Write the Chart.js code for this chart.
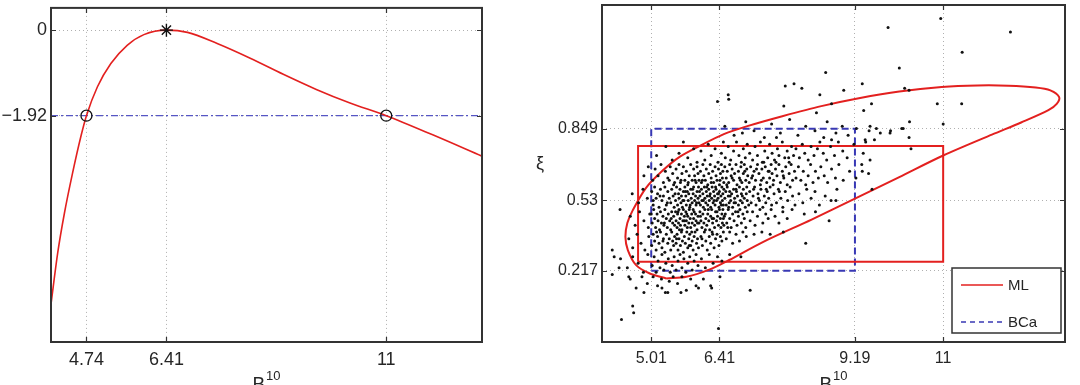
<!DOCTYPE html>
<html>
<head>
<meta charset="utf-8">
<script src="https://cdn.jsdelivr.net/npm/chart.js@4.4.1/dist/chart.umd.min.js"></script>
<style>
  body { margin: 0; background: #fff; }
  #wrap { position: relative; width: 1080px; height: 385px; overflow: hidden; }
  canvas { position: absolute; top: 0; }
  #left { left: 0; }
  #right { left: 520px; }
</style>
</head>
<body>
<div id="wrap">
  <canvas id="left" width="520" height="385" style="width:520px;height:385px"></canvas>
  <canvas id="right" width="560" height="385" style="width:560px;height:385px"></canvas>
</div>
<script>
// ---- left panel: profile log-likelihood ----
const llX = [4.0, 4.14, 4.28, 4.45, 4.63, 4.74, 4.97, 5.25, 5.59, 5.94, 6.41, 6.85, 7.47, 8.16, 8.85, 9.54, 10.23, 11.0, 11.97, 13.0];
const llY = [-6.15, -5.0, -4.11, -3.21, -2.36, -1.92, -1.27, -0.75, -0.34, -0.10, 0, -0.05, -0.30, -0.63, -0.99, -1.33, -1.63, -1.92, -2.35, -2.83];
const cutLevel = -1.92;
const ciEnds = [4.74, 11];
const mleX = 6.41;
const leftXTicks = [4.74, 6.41, 11];
const leftXLabels = ['4.74', '6.41', '11'];
const leftYTicks = [-1.92, 0];
const leftYLabels = ['\u22121.92', '0'];

// ---- right panel: bootstrap samples and confidence regions ----
const rightXTicks = [5.01, 6.41, 9.19, 11];
const rightXLabels = ['5.01', '6.41', '9.19', '11'];
const rightYTicks = [0.217, 0.53, 0.849];
const rightYLabels = ['0.217', '0.53', '0.849'];

const mlRegion = [[5.32,0.183],[4.98,0.205],[4.70,0.242],[4.53,0.309],[4.48,0.368],[4.52,0.43],[4.63,0.486],[4.90,0.585],[5.25,0.664],[5.60,0.725],[6.0,0.772],[6.5,0.825],[7.0,0.862],[7.7,0.905],[8.5,0.95],[9.27,0.985],[10.1,1.015],[10.97,1.035],[11.7,1.042],[12.34,1.041],[12.9,1.033],[13.2,1.02],[13.38,0.99],[13.33,0.96],[13.16,0.932],[12.6,0.877],[12.0,0.823],[11.0,0.73],[10.1,0.634],[9.19,0.538],[8.3,0.445],[7.3,0.345],[6.61,0.265],[6.20,0.222],[5.73,0.19],[5.32,0.183]];
const mlBox = [[4.74,0.257],[11,0.257],[11,0.772],[4.74,0.772],[4.74,0.257]];
const bcaBox = [[5.01,0.217],[9.19,0.217],[9.19,0.849],[5.01,0.849],[5.01,0.217]];

const bootCloud = [
  [6.52,0.86],[6.71,0.82],[6.95,0.88],[7.12,0.84],[7.33,0.81],[7.48,0.87],[7.66,0.83],[7.85,0.89],[8.02,0.82],[8.18,0.86],[8.37,0.84],[8.55,0.81],[8.62,0.88],[8.80,0.83],[8.93,0.86],[9.05,0.82],[9.22,0.85],[7.58,0.81],[6.88,0.83],[8.71,0.80],
  [5.12,0.73],[5.31,0.77],[5.44,0.71],[5.58,0.74],[5.67,0.79],[5.76,0.72],[5.88,0.76],[5.95,0.70],
  [6.03,0.75],[6.11,0.71],[6.18,0.78],[6.24,0.73],[6.32,0.76],[6.38,0.70],[6.45,0.74],[6.49,0.79],
  [6.53,0.72],[6.59,0.77],[6.64,0.71],[6.70,0.75],[6.76,0.79],[6.81,0.73],[6.86,0.70],[6.90,0.76],[6.94,0.72],[6.98,0.78],
  [7.03,0.74],[7.09,0.71],[7.14,0.77],[7.19,0.73],[7.25,0.79],[7.29,0.70],[7.34,0.75],[7.40,0.72],[7.44,0.78],[7.49,0.74],
  [7.54,0.71],[7.60,0.76],[7.63,0.73],[7.70,0.79],[7.75,0.72],[7.80,0.75],[7.84,0.70],[7.89,0.77],[7.93,0.73],[7.98,0.76],
  [8.05,0.72],[8.11,0.78],[8.16,0.74],[8.23,0.71],[8.29,0.77],[8.35,0.73],[8.42,0.76],[8.47,0.79],
  [8.54,0.74],[8.61,0.71],[8.69,0.77],[8.77,0.73],[8.85,0.79],[8.94,0.75],[9.03,0.72],[9.17,0.78],[9.36,0.74],
  [4.86,0.64],[4.95,0.68],
  [5.04,0.62],[5.09,0.67],[5.15,0.64],[5.21,0.69],[5.26,0.61],[5.30,0.66],[5.35,0.63],[5.40,0.68],[5.45,0.65],[5.49,0.61],
  [5.52,0.67],[5.55,0.63],[5.58,0.69],[5.61,0.61],[5.64,0.65],[5.67,0.68],[5.70,0.62],[5.73,0.66],[5.76,0.60],[5.79,0.64],[5.82,0.69],[5.85,0.62],[5.88,0.67],[5.90,0.64],[5.93,0.61],[5.95,0.68],[5.97,0.65],[5.99,0.62],
  [6.02,0.66],[6.04,0.61],[6.07,0.69],[6.09,0.64],[6.12,0.62],[6.14,0.67],[6.17,0.60],[6.19,0.65],[6.22,0.69],[6.24,0.63],[6.27,0.66],[6.29,0.61],[6.32,0.68],[6.34,0.64],[6.36,0.62],[6.39,0.67],[6.41,0.60],[6.43,0.65],[6.45,0.69],[6.47,0.63],[6.48,0.66],[6.50,0.61],
  [6.52,0.68],[6.55,0.63],[6.57,0.66],[6.60,0.61],[6.62,0.69],[6.65,0.64],[6.67,0.67],[6.70,0.62],[6.72,0.65],[6.75,0.69],[6.77,0.60],[6.80,0.66],[6.82,0.63],[6.85,0.68],[6.87,0.61],[6.90,0.65],[6.92,0.69],[6.95,0.62],[6.97,0.67],[6.99,0.64],
  [7.02,0.61],[7.05,0.68],[7.09,0.64],[7.12,0.66],[7.15,0.62],[7.19,0.69],[7.22,0.65],[7.25,0.60],[7.28,0.67],[7.31,0.63],[7.35,0.68],[7.38,0.61],[7.41,0.66],[7.44,0.63],[7.47,0.69],[7.49,0.65],
  [7.52,0.62],[7.56,0.67],[7.59,0.64],[7.63,0.69],[7.66,0.61],[7.70,0.66],[7.73,0.63],[7.77,0.68],[7.80,0.60],[7.84,0.65],[7.88,0.69],[7.91,0.62],[7.95,0.66],[7.98,0.63],
  [8.03,0.68],[8.08,0.62],[8.13,0.66],[8.18,0.60],[8.23,0.64],[8.28,0.69],[8.33,0.61],[8.38,0.66],[8.44,0.63],[8.49,0.68],
  [8.56,0.64],[8.63,0.61],[8.71,0.67],[8.79,0.63],[8.86,0.69],[8.95,0.62],[9.08,0.66],[9.21,0.63],[9.33,0.69],
  [4.62,0.56],[4.75,0.52],[4.84,0.58],[4.93,0.54],
  [5.02,0.57],[5.05,0.51],[5.08,0.59],[5.11,0.54],[5.14,0.56],[5.17,0.50],[5.20,0.58],[5.23,0.53],[5.26,0.55],[5.29,0.59],[5.32,0.51],[5.35,0.57],[5.38,0.54],[5.41,0.52],[5.43,0.58],[5.46,0.55],[5.48,0.50],[5.50,0.56],
  [5.51,0.53],[5.53,0.59],[5.55,0.51],[5.57,0.56],[5.58,0.54],[5.60,0.58],[5.62,0.52],[5.63,0.55],[5.65,0.50],[5.67,0.57],[5.68,0.53],[5.70,0.59],[5.72,0.55],[5.73,0.51],[5.75,0.57],[5.77,0.53],[5.78,0.56],[5.80,0.50],[5.82,0.58],[5.83,0.54],[5.85,0.52],[5.87,0.56],[5.88,0.59],[5.90,0.53],[5.92,0.55],[5.93,0.51],[5.95,0.57],[5.97,0.54],[5.98,0.59],[5.99,0.52],
  [6.01,0.55],[6.02,0.51],[6.04,0.58],[6.05,0.53],[6.07,0.56],[6.08,0.50],[6.10,0.59],[6.11,0.54],[6.13,0.52],[6.14,0.57],[6.16,0.55],[6.17,0.51],[6.19,0.58],[6.20,0.53],[6.22,0.56],[6.23,0.50],[6.25,0.54],[6.26,0.59],[6.28,0.52],[6.29,0.57],[6.31,0.55],[6.32,0.51],[6.34,0.58],[6.35,0.53],[6.37,0.56],[6.38,0.54],[6.40,0.50],[6.41,0.57],[6.43,0.52],[6.44,0.55],[6.46,0.59],[6.47,0.53],[6.48,0.56],[6.49,0.51],[6.50,0.58],
  [6.52,0.54],[6.54,0.57],[6.55,0.51],[6.57,0.59],[6.59,0.55],[6.61,0.52],[6.62,0.57],[6.64,0.53],[6.66,0.56],[6.68,0.50],[6.70,0.58],[6.72,0.54],[6.74,0.52],[6.76,0.57],[6.78,0.55],[6.80,0.51],[6.82,0.59],[6.84,0.53],[6.86,0.56],[6.88,0.52],[6.90,0.58],[6.92,0.54],[6.94,0.50],[6.96,0.56],[6.98,0.53],
  [7.03,0.57],[7.06,0.52],[7.10,0.55],[7.13,0.59],[7.16,0.51],[7.20,0.56],[7.23,0.53],[7.26,0.58],[7.30,0.50],[7.33,0.55],[7.36,0.52],[7.39,0.57],[7.42,0.54],[7.45,0.59],[7.48,0.51],
  [7.53,0.56],[7.58,0.52],[7.62,0.58],[7.67,0.54],[7.71,0.50],[7.76,0.57],[7.81,0.53],[7.86,0.59],[7.91,0.55],[7.96,0.51],
  [8.04,0.56],[8.12,0.52],[8.20,0.58],[8.29,0.54],[8.37,0.57],[8.46,0.51],[8.58,0.55],[8.70,0.53],[8.82,0.58],
  [4.58,0.46],[4.68,0.42],[4.77,0.48],[4.86,0.44],[4.95,0.41],
  [5.01,0.47],[5.03,0.43],[5.06,0.49],[5.08,0.45],[5.10,0.41],[5.13,0.47],[5.15,0.44],[5.18,0.40],[5.20,0.48],[5.22,0.43],[5.25,0.46],[5.27,0.42],[5.29,0.49],[5.32,0.45],[5.34,0.41],[5.36,0.47],[5.39,0.44],[5.41,0.40],[5.43,0.48],[5.45,0.43],[5.47,0.46],[5.49,0.42],
  [5.51,0.48],[5.52,0.44],[5.54,0.41],[5.55,0.47],[5.57,0.43],[5.58,0.49],[5.60,0.45],[5.61,0.42],[5.63,0.47],[5.64,0.40],[5.66,0.44],[5.67,0.49],[5.69,0.46],[5.70,0.42],[5.72,0.48],[5.73,0.44],[5.75,0.41],[5.76,0.46],[5.78,0.43],[5.79,0.49],[5.81,0.45],[5.82,0.41],[5.84,0.47],[5.85,0.43],[5.87,0.49],[5.88,0.45],[5.90,0.42],[5.92,0.47],[5.93,0.44],[5.95,0.40],[5.97,0.46],[5.99,0.43],
  [6.01,0.48],[6.03,0.44],[6.05,0.41],[6.07,0.47],[6.09,0.43],[6.11,0.49],[6.13,0.45],[6.15,0.42],[6.17,0.47],[6.19,0.44],[6.21,0.40],[6.23,0.46],[6.25,0.49],[6.27,0.43],[6.29,0.45],[6.31,0.41],[6.33,0.48],[6.35,0.44],[6.37,0.46],[6.39,0.42],[6.41,0.49],[6.43,0.45],[6.44,0.41],[6.46,0.47],[6.47,0.43],[6.48,0.49],[6.49,0.45],[6.50,0.42],
  [6.53,0.47],[6.56,0.43],[6.59,0.49],[6.62,0.45],[6.65,0.41],[6.68,0.47],[6.71,0.44],[6.74,0.48],[6.77,0.42],[6.80,0.46],[6.83,0.49],[6.86,0.43],[6.89,0.47],[6.92,0.45],[6.95,0.41],[6.98,0.48],
  [7.04,0.44],[7.09,0.48],[7.14,0.42],[7.19,0.46],[7.24,0.49],[7.30,0.43],[7.36,0.47],[7.41,0.45],[7.47,0.49],
  [7.55,0.46],[7.63,0.43],[7.71,0.48],[7.80,0.45],[7.90,0.49],[8.15,0.47],[8.38,0.48],
  [4.55,0.36],[4.63,0.32],[4.72,0.38],[4.80,0.34],[4.88,0.31],[4.96,0.37],
  [5.02,0.33],[5.05,0.38],[5.08,0.35],[5.11,0.31],[5.14,0.37],[5.17,0.34],[5.20,0.39],[5.23,0.32],[5.26,0.36],[5.29,0.30],[5.32,0.38],[5.35,0.34],[5.38,0.36],[5.41,0.31],[5.43,0.39],[5.45,0.35],[5.47,0.33],[5.49,0.37],
  [5.52,0.34],[5.54,0.38],[5.56,0.31],[5.58,0.36],[5.61,0.33],[5.63,0.39],[5.65,0.35],[5.67,0.30],[5.69,0.37],[5.71,0.34],[5.74,0.39],[5.76,0.32],[5.78,0.36],[5.80,0.38],[5.82,0.33],[5.85,0.35],[5.87,0.31],[5.89,0.37],[5.91,0.39],[5.94,0.34],[5.96,0.36],[5.98,0.32],
  [6.03,0.37],[6.06,0.33],[6.10,0.39],[6.13,0.35],[6.16,0.31],[6.20,0.37],[6.23,0.34],[6.26,0.39],[6.30,0.32],[6.33,0.36],[6.36,0.38],[6.40,0.33],[6.43,0.37],[6.46,0.35],[6.49,0.39],
  [6.55,0.36],[6.62,0.39],[6.68,0.34],[6.75,0.38],[6.82,0.35],[6.89,0.39],[6.96,0.37],[7.12,0.38],[7.28,0.39],[7.45,0.38],[7.72,0.39],
  [4.38,0.27],[4.52,0.23],[4.63,0.28],[4.74,0.25],[4.85,0.21],[4.94,0.29],
  [5.03,0.24],[5.07,0.28],[5.11,0.21],[5.15,0.26],[5.19,0.23],[5.23,0.29],[5.27,0.22],[5.31,0.25],[5.36,0.27],[5.40,0.21],[5.44,0.24],[5.48,0.28],
  [5.52,0.22],[5.56,0.26],[5.60,0.29],[5.64,0.23],[5.68,0.27],[5.72,0.21],[5.76,0.25],[5.80,0.28],[5.85,0.22],[5.89,0.26],[5.93,0.29],[5.97,0.24],
  [6.04,0.27],[6.12,0.23],[6.20,0.29],[6.28,0.25],[6.37,0.28],[6.46,0.26],[6.62,0.29],[6.85,0.28],
  [4.58,0.18],[4.70,0.14],[4.82,0.19],[4.93,0.16],
  [5.05,0.19],[5.14,0.15],[5.22,0.18],[5.30,0.12],[5.38,0.17],[5.46,0.19],
  [5.55,0.16],[5.64,0.19],[5.73,0.13],[5.82,0.18],[5.93,0.15],[6.08,0.18],[6.25,0.14],[6.42,0.19],
  // extra samples in the dense core
  [5.34,0.52],[5.42,0.45],[5.47,0.60],[5.56,0.48],[5.59,0.40],[5.62,0.62],[5.66,0.53],[5.69,0.44],[5.71,0.57],[5.74,0.47],
  [5.77,0.61],[5.81,0.51],[5.84,0.39],[5.86,0.58],[5.89,0.48],[5.91,0.62],[5.94,0.52],[5.96,0.43],[6.00,0.57],[6.02,0.46],
  [6.06,0.62],[6.08,0.53],[6.12,0.40],[6.15,0.59],[6.18,0.49],[6.21,0.55],[6.24,0.61],[6.26,0.45],[6.30,0.53],[6.33,0.59],
  [6.36,0.48],[6.39,0.56],[6.42,0.62],[6.45,0.51],[6.51,0.46],[6.56,0.60],[6.60,0.50],[6.63,0.55],[6.67,0.63],[6.71,0.52],
  [6.75,0.58],[6.79,0.48],[6.84,0.62],[6.88,0.55],[6.93,0.66],[6.97,0.59],[7.01,0.51],[7.07,0.63],[7.11,0.58],[7.17,0.67],
  [7.21,0.54],[7.27,0.62],[7.32,0.70],[7.37,0.58],[7.43,0.66],[7.51,0.60],[7.57,0.70],[7.64,0.57],[7.72,0.64],[7.83,0.72],
  [5.28,0.43],[5.19,0.55],[5.12,0.39],[5.38,0.62],[5.25,0.35],[5.53,0.36],[5.79,0.33],[6.05,0.36],[6.27,0.38],[6.58,0.41],
  [5.05,0.53],[4.98,0.47],
  // scattered far samples
  [9.87,1.30],[10.95,1.34],[12.38,1.28],[11.39,1.19],[10.10,1.12],[8.59,1.10],[9.34,1.05],[7.76,1.04],[7.94,1.05],[8.10,1.03],
  [8.96,1.02],[10.21,1.03],[10.30,1.02],[10.88,0.96],[11.38,0.96],[6.59,1.00],[6.60,0.98],[6.37,0.97],[7.73,0.95],[8.47,1.00],
  [8.71,0.96],[8.40,0.92],[9.53,0.96],[9.37,0.93],[11.00,0.87],[10.31,0.88],[9.50,0.86],[9.48,0.84],[9.63,0.85],[9.71,0.83],
  [9.92,0.84],[9.91,0.83],[10.15,0.85],[10.18,0.85],[9.40,0.80],[9.41,0.79],[9.59,0.80],[10.30,0.81],[10.34,0.76],[9.50,0.71],
  [9.47,0.65],[9.34,0.66],[9.54,0.58],[8.18,0.34],[7.04,0.13],[6.39,-0.04],[4.40,0.00],[4.63,0.06],[4.65,0.03],[4.21,0.31],
  [4.25,0.28],[4.37,0.49],[4.86,0.12],[5.23,0.14],[5.35,0.12],[5.62,0.12],[5.98,0.14],[6.23,0.15],[4.55,0.19],[4.21,0.20],
  [4.35,0.23],[8.80,0.53],[8.66,0.44]
];

const textColor = '#262626';
const tickFont = (size) => ({ family: "'Liberation Sans', Arial, sans-serif", size: size });
const pts = (pairs) => pairs.map(p => ({ x: p[0], y: p[1] }));

// MATLAB-like frame: full box, inward ticks, axis titles, legend
const matlabBox = {
  id: 'matlabBox',
  afterDraw(chart, args, opts) {
    const { ctx, chartArea: a, scales } = chart;
    ctx.save();
    ctx.strokeStyle = '#333';
    ctx.lineWidth = 1.2;
    scales.x.ticks.forEach(t => {
      const px = Math.round(scales.x.getPixelForValue(t.value)) + 0.5;
      ctx.beginPath();
      ctx.moveTo(px, a.bottom); ctx.lineTo(px, a.bottom - 5);
      ctx.moveTo(px, a.top); ctx.lineTo(px, a.top + 5);
      ctx.stroke();
    });
    scales.y.ticks.forEach(t => {
      const py = Math.round(scales.y.getPixelForValue(t.value)) + 0.5;
      ctx.beginPath();
      ctx.moveTo(a.left, py); ctx.lineTo(a.left + 5, py);
      ctx.moveTo(a.right, py); ctx.lineTo(a.right - 5, py);
      ctx.stroke();
    });
    ctx.lineWidth = 2;
    ctx.strokeRect(a.left, a.top, a.right - a.left, a.bottom - a.top);

    // x title: B with superscript 10
    ctx.fillStyle = textColor;
    ctx.textBaseline = 'alphabetic';
    ctx.textAlign = 'left';
    const big = "19px 'Liberation Sans', Arial, sans-serif";
    const small = "13px 'Liberation Sans', Arial, sans-serif";
    ctx.font = big;
    const wB = ctx.measureText('B').width;
    ctx.font = small;
    const wS = ctx.measureText('10').width;
    const x0 = (a.left + a.right) / 2 - (wB + wS + 1) / 2;
    ctx.font = big;
    ctx.fillText('B', x0, a.bottom + 48);
    ctx.font = small;
    ctx.fillText('10', x0 + wB + 1, a.bottom + 38);

    if (opts.yTitle) {
      ctx.font = "18px 'Liberation Sans', Arial, sans-serif";
      ctx.textAlign = 'center';
      ctx.textBaseline = 'middle';
      ctx.fillText(opts.yTitle, a.left - 62, 164);
    }

    if (opts.legend) {
      const w = 109, h = 65;
      const lx = a.right - 4 - w, ly = a.bottom - 9 - h;
      ctx.fillStyle = '#fff';
      ctx.fillRect(lx, ly, w, h);
      ctx.strokeStyle = '#333';
      ctx.lineWidth = 1.5;
      ctx.strokeRect(lx, ly, w, h);
      ctx.font = "15px 'Liberation Sans', Arial, sans-serif";
      ctx.textAlign = 'left';
      ctx.textBaseline = 'middle';
      opts.legend.forEach((item, i) => {
        const yy = ly + 17 + i * 37;
        ctx.strokeStyle = item.color;
        ctx.lineWidth = item.width;
        ctx.setLineDash(item.dash);
        ctx.beginPath();
        ctx.moveTo(lx + 9, yy); ctx.lineTo(lx + 51, yy);
        ctx.stroke();
        ctx.setLineDash([]);
        ctx.fillStyle = textColor;
        ctx.fillText(item.label, lx + 56, yy + 1);
      });
    }
    ctx.restore();
  }
};

function axis(min, max, tickVals, tickLabels, size, isX, fitSize, pad) {
  return {
    type: 'linear',
    min: min,
    max: max,
    afterBuildTicks: s => { s.ticks = tickVals.map(v => ({ value: v })); },
    afterFit: s => {
      // fixed axis size and no label overhang, so the plot box sits where it should
      if (isX) s.height = fitSize; else s.width = fitSize;
      s.paddingTop = 0; s.paddingBottom = 0; s.paddingLeft = 0; s.paddingRight = 0;
    },
    ticks: {
      callback: v => tickLabels[tickVals.indexOf(v)],
      font: tickFont(size),
      color: textColor,
      padding: pad,
      maxRotation: 0,
      autoSkip: false
    },
    grid: { color: '#b0b0b0', lineWidth: 1, drawTicks: false },
    border: { display: false, dash: [1, 3] }
  };
}

new Chart(document.getElementById('left'), {
  type: 'scatter',
  data: {
    datasets: [
      {
        data: [{ x: mleX, y: 0 }],
        pointStyle: 'star', pointRadius: 6.5, borderColor: '#111', borderWidth: 1.4, showLine: false
      },
      {
        data: ciEnds.map(x => ({ x: x, y: cutLevel })),
        pointStyle: 'circle', pointRadius: 5.5, borderColor: '#111', borderWidth: 1.3,
        backgroundColor: 'rgba(0,0,0,0)', showLine: false
      },
      {
        data: llX.map((x, i) => ({ x: x, y: llY[i] })),
        showLine: true, borderColor: '#e3201f', borderWidth: 1.6, pointRadius: 0,
        cubicInterpolationMode: 'monotone'
      },
      {
        data: [{ x: 4, y: cutLevel }, { x: 13, y: cutLevel }],
        showLine: true, borderColor: '#5656c4', borderWidth: 1.2, pointRadius: 0,
        borderDash: [7, 3, 2, 3]
      }
    ]
  },
  options: {
    responsive: false,
    animation: false,
    events: [],
    devicePixelRatio: 1,
    layout: { padding: { left: 0, top: 6, right: 38, bottom: 0 } },
    plugins: { legend: { display: false }, tooltip: { enabled: false }, matlabBox: {} },
    scales: {
      x: axis(4, 13, leftXTicks, leftXLabels, 18, true, 43, 7),
      y: axis(-7, 0.5, leftYTicks, leftYLabels, 18, false, 51, 4)
    }
  },
  plugins: [matlabBox]
});

new Chart(document.getElementById('right'), {
  type: 'scatter',
  data: {
    datasets: [
      {
        data: pts(bootCloud),
        pointRadius: 1.5, borderWidth: 0, backgroundColor: '#111', showLine: false
      },
      {
        data: pts(mlRegion),
        showLine: true, borderColor: '#e3201f', borderWidth: 2, pointRadius: 0, tension: 0.3
      },
      {
        data: pts(mlBox),
        showLine: true, borderColor: '#e3201f', borderWidth: 2, pointRadius: 0, tension: 0
      },
      {
        data: pts(bcaBox),
        showLine: true, borderColor: '#3838b4', borderWidth: 2, pointRadius: 0, tension: 0,
        borderDash: [7, 4]
      }
    ]
  },
  options: {
    responsive: false,
    animation: false,
    events: [],
    devicePixelRatio: 1,
    layout: { padding: { left: 0, top: 5, right: 15, bottom: 0 } },
    plugins: {
      legend: { display: false },
      tooltip: { enabled: false },
      matlabBox: {
        yTitle: '\u03be',
        legend: [
          { label: 'ML', color: '#e3201f', width: 1.6, dash: [] },
          { label: 'BCa', color: '#3838b4', width: 1.6, dash: [5, 4] }
        ]
      }
    },
    scales: {
      x: axis(4, 13.5, rightXTicks, rightXLabels, 16, true, 43, 7),
      y: axis(-0.1, 1.4, rightYTicks, rightYLabels, 16, false, 82, 4)
    }
  },
  plugins: [matlabBox]
});
</script>
</body>
</html>
